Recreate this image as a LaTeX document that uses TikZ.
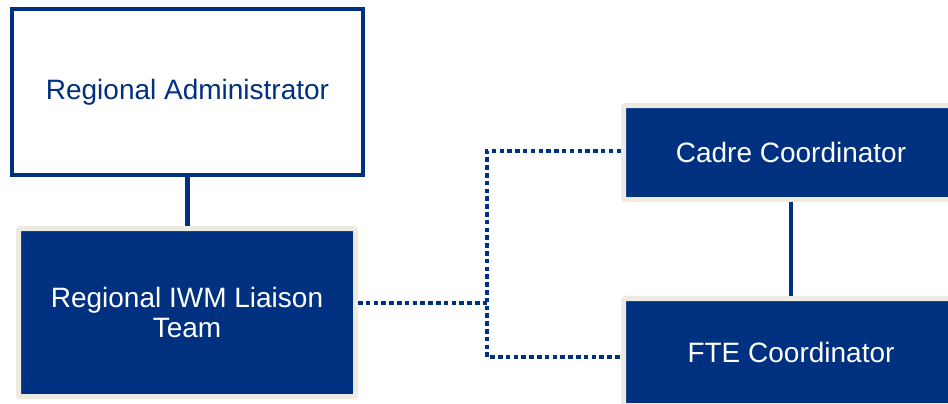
\documentclass[tikz,border=0pt]{standalone}
\usepackage{fontspec}
\setmainfont{Liberation Sans}
\definecolor{navy}{RGB}{0,48,128}
\definecolor{beige}{RGB}{237,234,224}
\tikzset{
  adminbox/.style={draw=navy, line width=4.5pt, fill=white, text=navy, inner sep=0pt, outer sep=0pt},
  teambox/.style={draw=beige, line width=5pt, fill=navy, text=white, rounded corners=1.5pt, inner sep=0pt, outer sep=0pt, align=center},
  solidline/.style={draw=navy, line width=4.5pt},
  dotline/.style={draw=navy, line width=3.5pt, dash pattern=on 4.5pt off 3.3pt},
  lbl/.style={font=\fontsize{28}{30}\selectfont}
}
\begin{document}
\begin{tikzpicture}[x=1pt,y=-1pt]
\useasboundingbox (0,0) rectangle (948,404);
\clip (0,0) rectangle (948,404);
\node[adminbox, lbl, minimum width=351pt, minimum height=166pt] (admin) at (187.5,92) {Regional Administrator};
\node[teambox, lbl, minimum width=337pt, minimum height=168pt] (team) at (187,312.5) {Regional IWM Liaison\\Team};
\node[teambox, lbl, minimum width=335pt, minimum height=94pt] (cadre) at (791,152.5) {Cadre Coordinator};
\node[teambox, lbl, minimum width=335pt, minimum height=107pt] (fte) at (791,352) {FTE Coordinator};
\coordinate (jt) at (487,151);
\coordinate (jb) at (487,357);
\coordinate (jm) at (487,303);
\draw[solidline, shorten >=2.5pt] (admin.south) -- (admin.south |- team.north);
\draw[solidline, shorten <=2.5pt, shorten >=2.5pt] (cadre.south) -- (fte.north);
\draw[dotline, shorten <=2.5pt] (cadre.west |- jt) -- (jt) -- (jb) -- ([xshift=-2.5pt]fte.west |- jb);
\draw[dotline, shorten <=2.5pt] (team.east |- jm) -- (jm);
\end{tikzpicture}
\end{document}
